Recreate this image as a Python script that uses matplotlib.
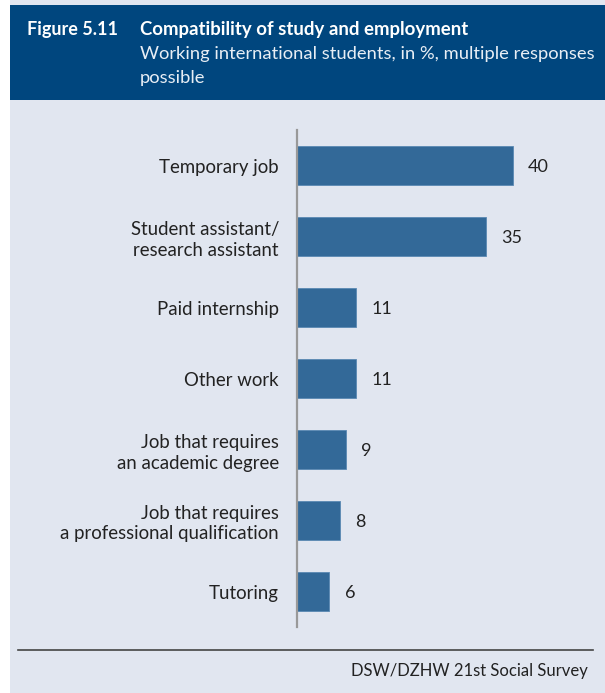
import matplotlib.pyplot as plt
from matplotlib.patches import Rectangle
from matplotlib.lines import Line2D

categories = ['Temporary job', 'Student assistant/\nresearch assistant', 'Paid internship',
              'Other work', 'Job that requires\nan academic degree',
              'Job that requires\na professional qualification', 'Tutoring']
values = [40, 35, 11, 11, 9, 8, 6]

W, H = 605, 693
header_blue = '#00467e'
panel_bg = '#e1e6f0'
bar_blue = '#336998'

plt.rcParams['font.family'] = ['Lato', 'DejaVu Sans']

fig = plt.figure(figsize=(W / 100, H / 100), dpi=100)
fig.patch.set_facecolor('white')

def px(x, y):
    return x / W, 1 - y / H

# panel background and header block
fig.patches.append(Rectangle(px(10, 693), (W - 10) / W, 693 / H, transform=fig.transFigure,
                             facecolor=panel_bg, edgecolor='none', zorder=0))
fig.patches.append(Rectangle(px(10, 100), (W - 10) / W, 95 / H, transform=fig.transFigure,
                             facecolor=header_blue, edgecolor='none', zorder=1))

fig.text(*px(27, 30), 'Figure 5.11', color='white', fontsize=13, fontweight='bold', va='center')
fig.text(*px(140, 30), 'Compatibility of study and employment', color='white', fontsize=13.4,
         fontweight='bold', va='center')
fig.text(*px(140, 54), 'Working international students, in %, multiple responses', color='#e8eef5',
         fontsize=13.2, va='center')
fig.text(*px(140, 78), 'possible', color='#e8eef5', fontsize=13.2, va='center')

# bar chart
x0, y0 = px(297, 627)
x1, y1 = px(593, 130)
ax = fig.add_axes([x0, y0, x1 - x0, y1 - y0], zorder=3)
ax.set_facecolor('none')
ypos = list(range(len(values)))
ax.barh(ypos, values, height=0.56, color=bar_blue, edgecolor='#5a88b3', linewidth=0.6)
ax.set_xlim(0, 296 / 5.4)
ax.set_ylim(len(values) - 0.5, -0.5)
for y, v in zip(ypos, values):
    ax.text(v + 2.8, y, str(v), va='center_baseline', ha='left', fontsize=13, color='#222222')
ax.set_yticks(ypos)
ax.set_yticklabels(categories, fontsize=13.4, color='#222222', linespacing=1.25)
ax.tick_params(axis='y', length=0, pad=13)
ax.set_xticks([])
for s in ['top', 'right', 'bottom']:
    ax.spines[s].set_visible(False)
ax.spines['left'].set_color('#999999')
ax.spines['left'].set_linewidth(1.6)

# footer rule and source
fig.lines.append(Line2D([18 / W, 593 / W], [1 - 650 / H] * 2, transform=fig.transFigure,
                        color='#444444', linewidth=1.2))
fig.text(*px(588, 671), 'DSW/DZHW 21st Social Survey', color='#222222', fontsize=12,
         ha='right', va='center')

fig.savefig('out.png', dpi=100, facecolor=fig.get_facecolor())
